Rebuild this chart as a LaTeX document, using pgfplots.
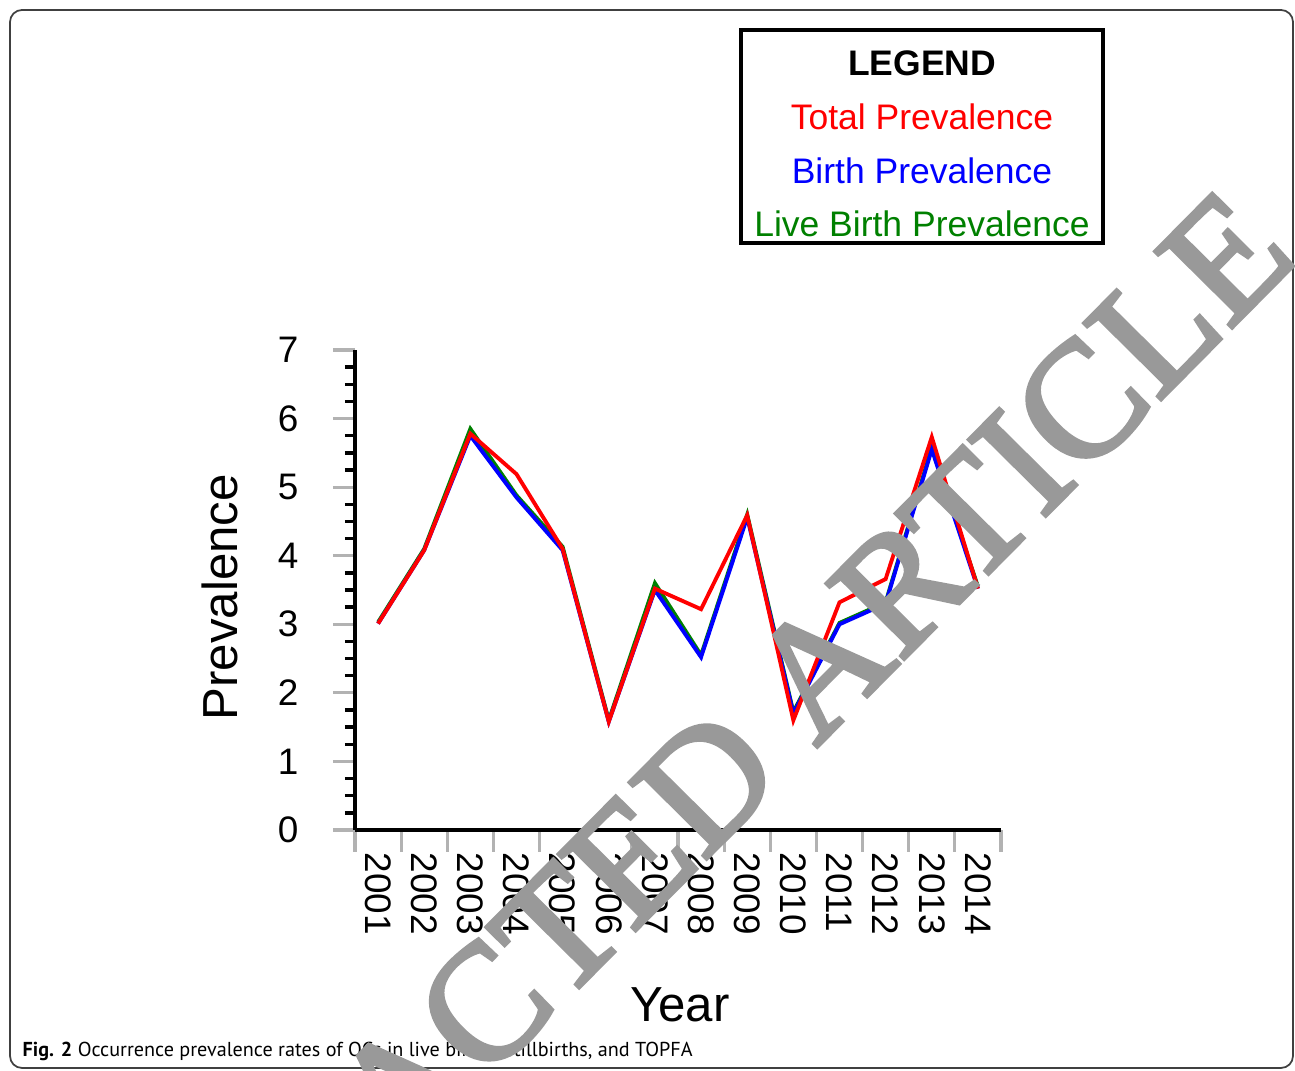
\documentclass[border=0pt]{standalone}
\usepackage{pgfplots}
\pgfplotsset{compat=1.18}
\usepackage{graphicx}
\usepackage{fontspec}
\setmainfont{Liberation Sans}
\newfontfamily\capfont{PT Sans}
\newfontfamily\wmfont[FakeBold=2.5]{Liberation Serif}

\definecolor{totred}{RGB}{255,0,0}
\definecolor{birblue}{RGB}{0,0,255}
\definecolor{livegreen}{RGB}{0,128,0}
\definecolor{wmgray}{RGB}{153,153,153}

% year index 1..14 = 2001..2014
\pgfplotstableread{
x total birth live
1  3.01 3.01 3.03
2  4.08 4.08 4.10
3  5.78 5.75 5.85
4  5.19 4.85 4.88
5  4.10 4.08 4.13
6  1.58 1.58 1.60
7  3.52 3.50 3.60
8  3.22 2.52 2.55
9  4.59 4.56 4.60
10 1.60 1.70 1.72
11 3.32 3.00 3.02
12 3.66 3.30 3.32
13 5.73 5.55 5.58
14 3.52 3.52 3.55
}\prev

\begin{document}
\begin{tikzpicture}
\useasboundingbox (0,0) rectangle (12.95,10.71);
\clip (0,0) rectangle (12.95,10.71);

% outer frame
\draw[rounded corners=0.12cm, line width=0.5pt, black!75] (0.10,0.03) rectangle (12.93,10.61);

\begin{axis}[
    at={(3.55cm,2.41cm)}, anchor=south west,
    scale only axis, width=6.46cm, height=4.80cm,
    xmin=0.5, xmax=14.5, ymin=0, ymax=7,
    axis x line*=bottom, axis y line*=left,
    axis line style={line width=1.1pt},
    xtick={0.5,1.5,...,14.5},
    x tick label as interval,
    xticklabels={2001,2002,2003,2004,2005,2006,2007,2008,2009,2010,2011,2012,2013,2014},
    ytick={0,1,...,7},
    minor y tick num=3,
    tick align=outside,
    major tick length=0.22cm,
    minor tick length=0.10cm,
    major tick style={gray!60, line width=0.9pt},
    minor tick style={black, line width=1pt},
    /pgf/number format/assume math mode=true,
    ticklabel style={font=\fontsize{10.5}{12}\selectfont, inner sep=0pt},
    xticklabel style={rotate=-90, anchor=west},
    yticklabel style={anchor=east, xshift=-0.34cm},
    xlabel={Year},
    ylabel={Prevalence},
    label style={font=\fontsize{14}{16}\selectfont},
    x label style={at={(axis description cs:0.503,-0.365)}, anchor=center},
    y label style={at={(axis description cs:-0.209,0.485)}, anchor=center},
    clip=false,
]
\addplot[livegreen, line width=1.1pt] table[x=x, y=live] {\prev};
\addplot[birblue, line width=1.1pt] table[x=x, y=birth] {\prev};
\addplot[totred, line width=1.1pt] table[x=x, y=total] {\prev};
\end{axis}

% legend box
\draw[line width=1.1pt] (7.41,10.41) rectangle (11.03,8.28);
\begin{scope}[every node/.style={inner sep=0pt, font=\fontsize{10.1}{12}\selectfont}]
\node at (9.22,10.08) {\bfseries LEGEND};
\node[text=totred] at (9.22,9.54) {Total Prevalence};
\node[text=birblue] at (9.22,9.00) {Birth Prevalence};
\node[text=livegreen] at (9.22,8.47) {Live Birth Prevalence};
\end{scope}

% caption
\node[anchor=west, inner sep=0pt] at (0.22,0.20)
  {\resizebox{6.70cm}{!}{\capfont\textbf{Fig. 2} Occurrence prevalence rates of OCs in live births, stillbirths, and TOPFA}};

% watermark
\node[rotate=45.3, text=wmgray, inner sep=0pt, font=\wmfont\fontsize{47}{47}\selectfont] at (6.63,2.45) {RETRACTED ARTICLE};
\end{tikzpicture}
\end{document}
